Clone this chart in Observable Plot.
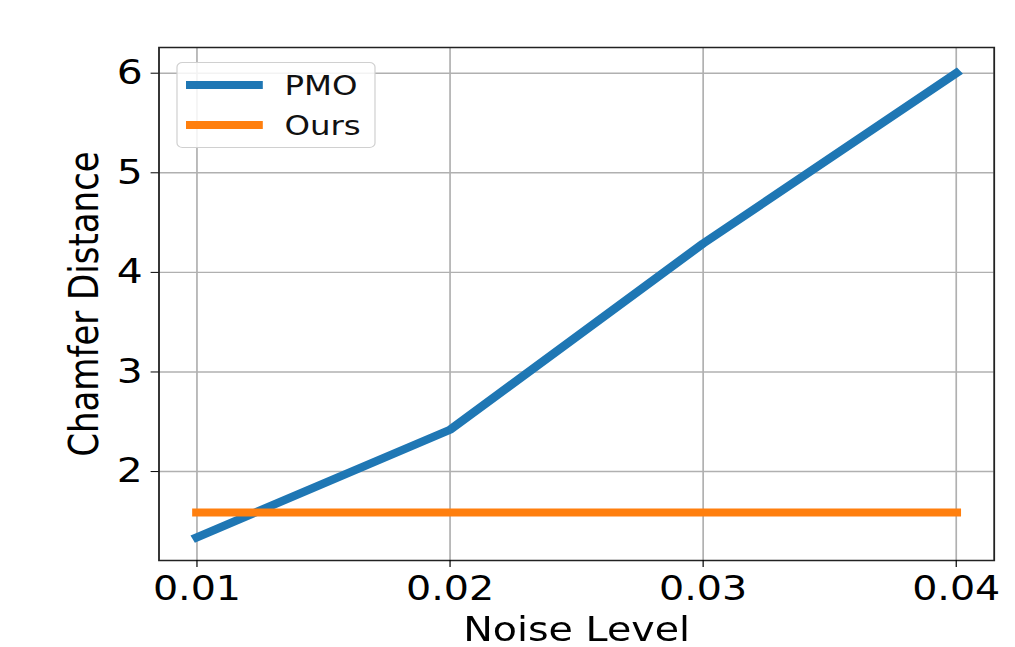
<!DOCTYPE html>
<html>
<head>
<meta charset="utf-8">
<script src="https://cdn.jsdelivr.net/npm/d3@7"></script>
<script src="https://cdn.jsdelivr.net/npm/@observablehq/plot@0.6"></script>
<style>
  html, body { margin: 0; padding: 0; background: white; }
  #wrap { position: relative; width: 846px; height: 647px; transform: scaleX(1.2); transform-origin: 0 0; font-family: "DejaVu Sans", sans-serif; }
  #legend { position: absolute; left: 147px; top: 62px; width: 166px; height: 86px; border: 1.5px solid #d0d0d0; border-radius: 5px; background: rgba(255,255,255,0.85); box-sizing: border-box; }
  .item { position: absolute; left: 0; height: 40px; width: 100%; }
  .sw { position: absolute; left: 7px; width: 64px; height: 8px; }
  .lab { position: absolute; left: 89px; font-size: 27px; line-height: 27px; color: #111; }
</style>
</head>
<body>
<div id="wrap">
  <div id="chart"></div>
  <div id="legend"></div>
</div>
<script>
const noiseLevels = [0.01, 0.02, 0.03, 0.04];
const pmoValues = [1.34, 2.42, 4.29, 6.0];
const oursValues = [1.59, 1.59, 1.59, 1.59];
const seriesNames = ["PMO", "Ours"];
const seriesColors = ["#1f77b4", "#ff7f0e"];
const xTicks = [0.01, 0.02, 0.03, 0.04];
const yTicks = [2, 3, 4, 5, 6];

const rows = [];
noiseLevels.forEach((n, i) => {
  rows.push({series: seriesNames[0], noise: n, value: pmoValues[i]});
  rows.push({series: seriesNames[1], noise: n, value: oursValues[i]});
});

const lineStyle = {x: "noise", y: "value", strokeWidth: 8, strokeLinecap: "square", strokeLinejoin: "round"};

const chart = Plot.plot({
  width: 846,
  height: 647,
  marginLeft: 132,
  marginRight: 18,
  marginTop: 47,
  marginBottom: 87,
  style: {fontFamily: "DejaVu Sans", fontSize: "33px", color: "black", background: "white", overflow: "visible"},
  x: {domain: [0.0085, 0.0415]},
  y: {domain: [1.107, 6.258]},
  marks: [
    Plot.gridX(xTicks, {stroke: "#b0b0b0", strokeOpacity: 1, strokeWidth: 1.4}),
    Plot.gridY(yTicks, {stroke: "#b0b0b0", strokeOpacity: 1, strokeWidth: 1.4}),
    Plot.line(rows.filter(d => d.series === seriesNames[0]), {...lineStyle, stroke: seriesColors[0]}),
    Plot.line(rows.filter(d => d.series === seriesNames[1]), {...lineStyle, stroke: seriesColors[1]}),
    Plot.frame({stroke: "#222", strokeWidth: 1.5}),
    Plot.axisX(xTicks, {tickSize: 7, tickPadding: 9, tickFormat: d => d.toFixed(2), label: "Noise Level", labelAnchor: "center", labelOffset: 80, labelArrow: "none", fontSize: 33}),
    Plot.axisY(yTicks, {tickSize: 6.5, tickPadding: 7, tickFormat: d => String(d), label: "Chamfer Distance", labelAnchor: "center", labelOffset: 75, labelArrow: "none", fontSize: 34})
  ]
});
document.getElementById("chart").appendChild(chart);

const legend = document.getElementById("legend");
seriesNames.forEach((name, i) => {
  const item = document.createElement("div");
  item.className = "item";
  item.style.top = (i * 40) + "px";
  const sw = document.createElement("div");
  sw.className = "sw";
  sw.style.background = seriesColors[i];
  sw.style.top = "18px";
  const lab = document.createElement("div");
  lab.className = "lab";
  lab.style.top = "9px";
  lab.textContent = name;
  item.appendChild(sw);
  item.appendChild(lab);
  legend.appendChild(item);
});
</script>
</body>
</html>
